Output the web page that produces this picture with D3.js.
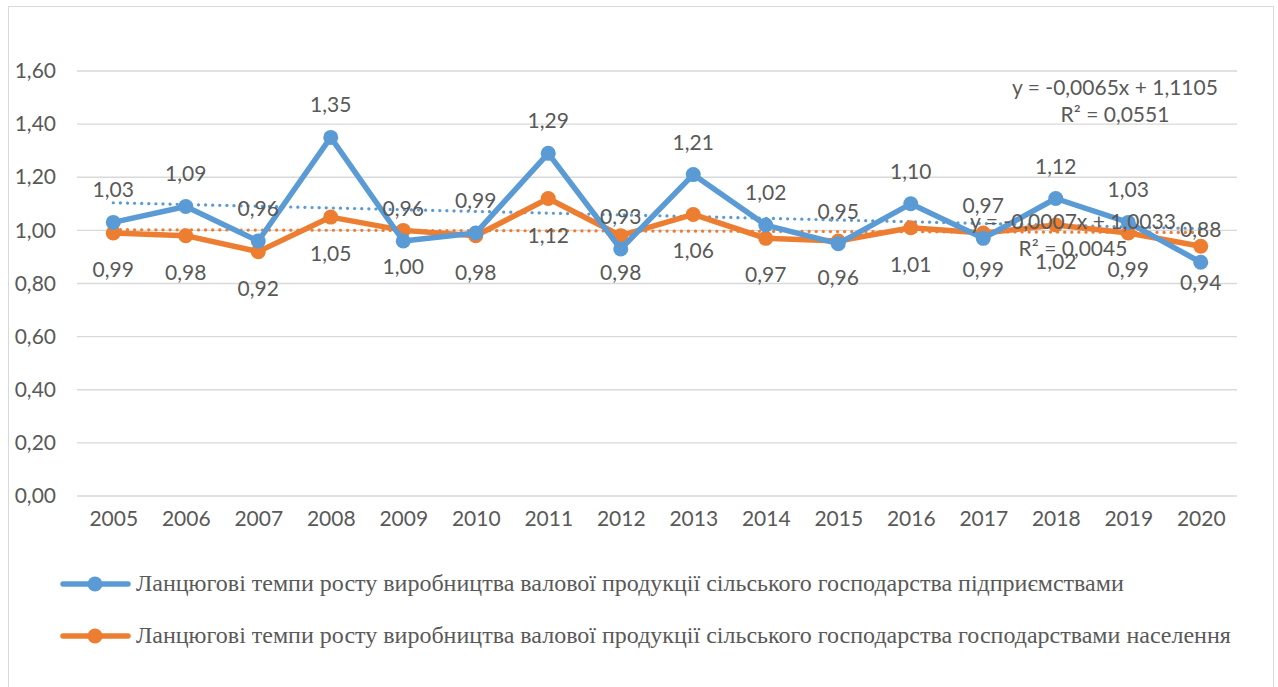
<!DOCTYPE html>
<html><head><meta charset="utf-8">
<script src="https://cdn.jsdelivr.net/npm/d3@7"></script>
<style>
body{margin:0;background:#fff;}
svg{display:block;}
.serif{font-family:"Liberation Serif","Times New Roman","DejaVu Serif",serif;}
</style></head><body>
<svg id="c" width="1278" height="687"></svg>
<script>
const years = ["2005","2006","2007","2008","2009","2010","2011","2012","2013","2014","2015","2016","2017","2018","2019","2020"];
const enterprises = [1.03,1.09,0.96,1.35,0.96,0.99,1.29,0.93,1.21,1.02,0.95,1.10,0.97,1.12,1.03,0.88];
const households = [0.99,0.98,0.92,1.05,1.00,0.98,1.12,0.98,1.06,0.97,0.96,1.01,0.99,1.02,0.99,0.94];
const yTicks = [0,0.2,0.4,0.6,0.8,1.0,1.2,1.4,1.6];
const seriesNames = [
  "Ланцюгові темпи росту виробництва валової продукції сільського господарства підприємствами",
  "Ланцюгові темпи росту виробництва валової продукції сільського господарства господарствами населення"
];
const trendBlue = {slope:-0.0065, intercept:1.1105, eq:"y = -0,0065x + 1,1105", r2:"R² = 0,0551"};
const trendOrange = {slope:-0.0007, intercept:1.0033, eq:"y = -0,0007x + 1,0033", r2:"R² = 0,0045"};

const blue = "#5B9BD5", orange = "#ED7D31", txt = "#595959";
const FS = 21, FF = "Lato";
const svg = d3.select("#c");
svg.append("rect").attr("x",8.5).attr("y",6.5).attr("width",1265).attr("height",690)
  .attr("fill","#fff").attr("stroke","#d9d9d9").attr("stroke-width",1);

const x = d3.scalePoint().domain(years).range([77,1237]).padding(0.5);
const y = d3.scaleLinear().domain([0,1.6]).range([496,71]);
const fmt = v => d3.format(".2f")(v).replace(".",",");

// grid
svg.append("g").selectAll("line").data(yTicks).join("line")
  .attr("x1",77).attr("x2",1237).attr("y1",d=>y(d)).attr("y2",d=>y(d))
  .attr("stroke","#d9d9d9").attr("stroke-width",1.3);

// y axis
const ya = svg.append("g").attr("transform","translate(56,0)")
  .call(d3.axisLeft(y).tickValues(yTicks).tickFormat(fmt).tickSize(0).tickPadding(0));
ya.select(".domain").remove();
ya.selectAll("text").attr("font-family",FF).attr("font-size",FS).attr("fill",txt);

// x axis
const xa = svg.append("g").attr("transform","translate(0,511)")
  .call(d3.axisBottom(x).tickSize(0).tickPadding(0));
xa.select(".domain").remove();
xa.selectAll("text").attr("font-family",FF).attr("font-size",FS).attr("fill",txt).attr("dy","0.71em");

// trendlines
function trend(t,color){
  svg.append("line")
    .attr("x1",x(years[0])).attr("x2",x(years[years.length-1]))
    .attr("y1",y(t.intercept+t.slope*1)).attr("y2",y(t.intercept+t.slope*years.length))
    .attr("stroke",color).attr("stroke-width",3.2).attr("stroke-dasharray","0.1 7")
    .attr("stroke-linecap","round");
}
trend(trendBlue,blue);
trend(trendOrange,orange);

// series
const line = d3.line().x((d,i)=>x(years[i])).y(d=>y(d));
function series(vals,color){
  svg.append("path").datum(vals).attr("d",line).attr("fill","none")
    .attr("stroke",color).attr("stroke-width",5.5).attr("stroke-linejoin","round");
  svg.append("g").selectAll("circle").data(vals).join("circle")
    .attr("cx",(d,i)=>x(years[i])).attr("cy",d=>y(d)).attr("r",7.5).attr("fill",color);
}
series(households,orange);
series(enterprises,blue);

// data labels
function labels(vals,dy){
  svg.append("g").selectAll("text").data(vals).join("text")
    .attr("x",(d,i)=>x(years[i])).attr("y",d=>y(d)+dy)
    .attr("text-anchor","middle").attr("font-family",FF).attr("font-size",FS).attr("fill",txt)
    .text(fmt);
}
labels(enterprises,-25);
labels(households,44);

// trend equations
function eq(t,cx,cy){
  const g = svg.append("g").attr("font-family",FF).attr("font-size",FS).attr("fill",txt).attr("text-anchor","middle");
  g.append("text").attr("x",cx).attr("y",cy).text(t.eq);
  g.append("text").attr("x",cx).attr("y",cy+27).text(t.r2);
}
eq(trendBlue,1115,95);
eq(trendOrange,1073,229);

// legend
const lg = svg.append("g");
[blue,orange].forEach((c,i)=>{
  const ly = 584 + i*52;
  lg.append("line").attr("x1",63).attr("x2",128).attr("y1",ly).attr("y2",ly)
    .attr("stroke",c).attr("stroke-width",5.5).attr("stroke-linecap","round");
  lg.append("circle").attr("cx",95).attr("cy",ly).attr("r",7.5).attr("fill",c);
  lg.append("text").attr("class","serif").attr("x",136).attr("y",ly+7)
    .attr("font-size",24).attr("fill",txt).text(seriesNames[i]);
});
</script>
</body></html>
